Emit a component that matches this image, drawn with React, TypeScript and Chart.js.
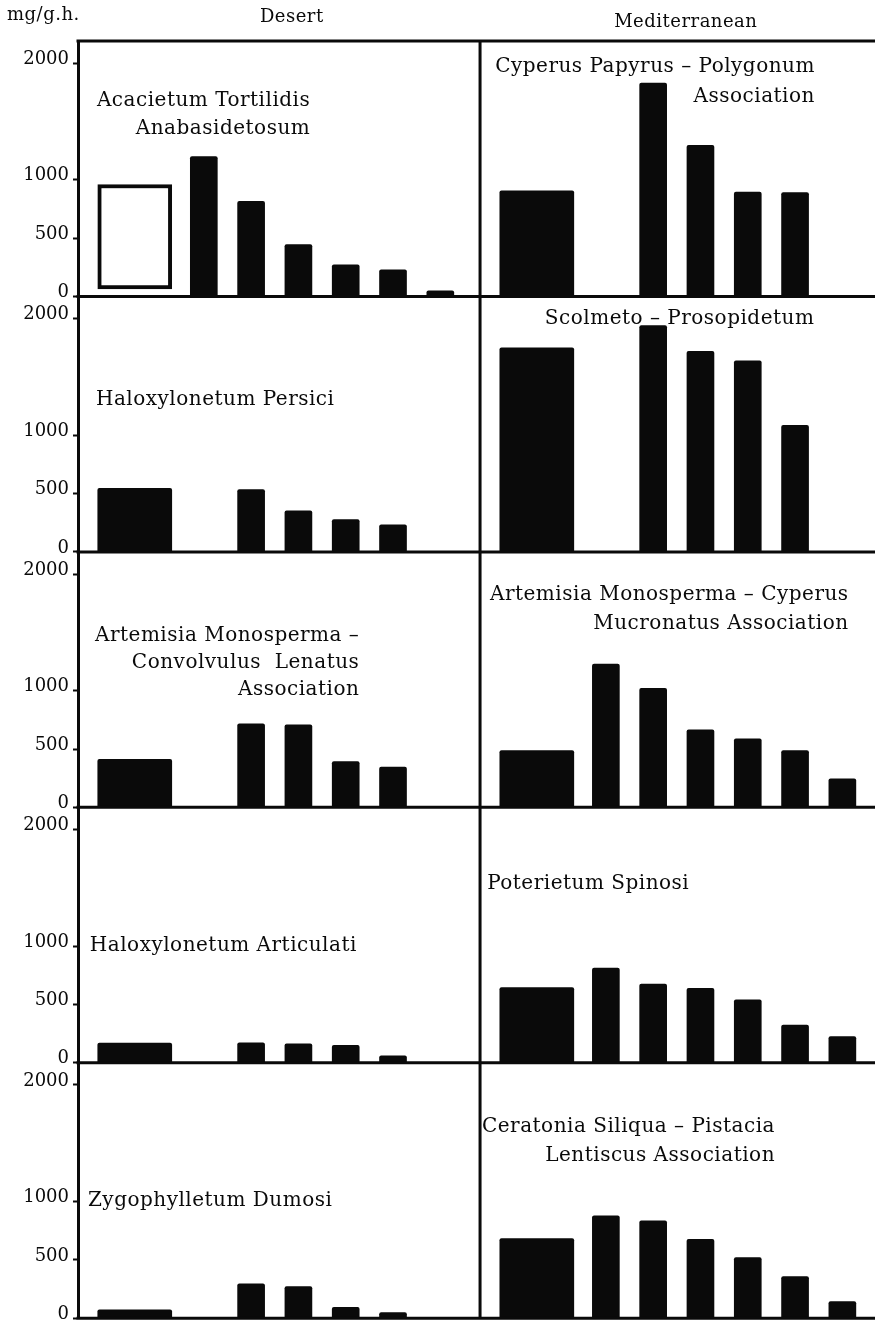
import React, { useEffect, useRef } from 'react';
import { Chart, registerables } from 'chart.js';

Chart.register(...registerables);

// ---------------- data ----------------
const Y_TICKS = [0, 500, 1000, 2000];
const SLOTS = ['1', '2', '3', '4', '5', '6'];
const COLUMN_HEADERS = ['Desert', 'Mediterranean'];
const UNIT_LABEL = 'mg/g.h.';

const DESERT_TITLES = [
  ['Acacietum Tortilidis', 'Anabasidetosum'],
  ['Haloxylonetum Persici'],
  ['Artemisia Monosperma –', 'Convolvulus  Lenatus', 'Association'],
  ['Haloxylonetum Articulati'],
  ['Zygophylletum Dumosi'],
];
const MED_TITLES = [
  ['Cyperus Papyrus – Polygonum', 'Association'],
  ['Scolmeto – Prosopidetum'],
  ['Artemisia Monosperma – Cyperus', 'Mucronatus Association'],
  ['Poterietum Spinosi'],
  ['Ceratonia Siliqua – Pistacia', 'Lentiscus Association'],
];

// wide (first) bar of each panel; the Acacietum one is an open bar [from, to]
const DESERT_WIDE: (number | [number, number])[] = [[65, 960], 545, 412, 168, 71];
const MED_WIDE: (number | [number, number])[] = [905, 1750, 487, 644, 682];

const DESERT_ACACIETUM = [1200, 815, 445, 270, 228, 48];
const DESERT_PERSICI = [null, 535, 352, 276, 231, null];
const DESERT_ARTEMISIA = [null, 715, 707, 392, 346, null];
const DESERT_ARTICULATI = [null, 171, 162, 149, 59, null];
const DESERT_ZYGOPHYLLETUM = [null, 294, 271, 94, 49, null];

const MED_CYPERUS = [null, 1830, 1295, 895, 890, null];
const MED_SCOLMETO = [null, 1940, 1720, 1637, 1085, null];
const MED_ARTEMISIA = [1228, 1020, 664, 587, 487, 245];
const MED_POTERIETUM = [812, 675, 639, 540, 324, 224];
const MED_CERATONIA = [877, 834, 677, 519, 356, 142];

const DESERT_SLOTS = [DESERT_ACACIETUM, DESERT_PERSICI, DESERT_ARTEMISIA, DESERT_ARTICULATI, DESERT_ZYGOPHYLLETUM];
const MED_SLOTS = [MED_CYPERUS, MED_SCOLMETO, MED_ARTEMISIA, MED_POTERIETUM, MED_CERATONIA];

// ---------------- layout ----------------
const W = 875;
const H = 1333;
const AXIS_W = 78;
const PAD_TOP = 41;
const PAD_BOTTOM = 8;
const X_MAX = 16.85;
const PANEL_SHIFT = 8.5;
const WIDE_X = 1.2;
const SLOT0_X = 2.66;
const Y_MAX = 2190;
const INK = '#0a0a0a';
const FONT = '"DejaVu Serif", "Liberation Serif", serif';

// title anchor: x in panel units from panel left, y = value on row axis, lh = line height px
const DESERT_TITLE_POS = [
  { x: 0.4, y: 1637, lh: 28 },
  { x: 0.38, y: 1260, lh: 28 },
  { x: 0.36, y: 1425, lh: 27 },
  { x: 0.25, y: 958, lh: 28 },
  { x: 0.21, y: 960, lh: 28 },
];
const MED_TITLE_POS = [
  { x: 0.32, y: 1924, lh: 30 },
  { x: 1.37, y: 1953, lh: 30 },
  { x: 0.21, y: 1778, lh: 29 },
  { x: 0.15, y: 1487, lh: 29 },
  { x: 0.04, y: 1594, lh: 29 },
];
const HEADER_X = [4.52, 12.85];
const HEADER_BASE = [19, 14];

function buildDatasets() {
  const ds: any[] = [];
  for (let r = 0; r < 5; r++) {
    for (let p = 0; p < 2; p++) {
      const wide = p ? MED_WIDE[r] : DESERT_WIDE[r];
      const slots = p ? MED_SLOTS[r] : DESERT_SLOTS[r];
      const title = (p ? MED_TITLES[r] : DESERT_TITLES[r]).join(' ');
      const hollow = Array.isArray(wide);
      ds.push({
        label: title + ' (community)',
        data: [{ x: p * PANEL_SHIFT + WIDE_X, y: wide }],
        yAxisID: 'y' + r,
        grouped: false,
        barThickness: 74,
        backgroundColor: hollow ? '#ffffff' : INK,
        borderColor: INK,
        borderWidth: hollow ? 4 : 0,
        borderSkipped: hollow ? false : 'start',
        borderRadius: hollow ? 0 : 2,
      });
      const pts: any[] = [];
      slots.forEach((v, i) => {
        if (v !== null && v !== undefined) pts.push({ x: p * PANEL_SHIFT + SLOT0_X + i, y: v, slot: SLOTS[i] });
      });
      ds.push({
        label: title,
        data: pts,
        yAxisID: 'y' + r,
        grouped: false,
        barThickness: 27,
        backgroundColor: INK,
        borderWidth: 0,
        borderRadius: 2,
      });
    }
  }
  return ds;
}

function buildScales() {
  const scales: any = {
    x: { type: 'linear', min: 0, max: X_MAX, offset: false, display: false },
  };
  for (let r = 0; r < 5; r++) {
    scales['y' + r] = {
      type: 'linear',
      position: 'left',
      stack: 'rows',
      stackWeight: 1,
      weight: 5 - r,
      min: 0,
      max: Y_MAX,
      afterBuildTicks: (s: any) => {
        s.ticks = Y_TICKS.map((v) => ({ value: v }));
      },
      afterFit: (s: any) => {
        s.width = AXIS_W;
      },
      border: { display: true, color: INK, width: 3 },
      grid: { drawOnChartArea: false, drawTicks: true, tickLength: 5, tickWidth: 2, tickColor: INK, color: INK },
      ticks: {
        color: INK,
        font: { family: FONT, size: 18 },
        padding: 4,
        labelOffset: -4,
        autoSkip: false,
        maxRotation: 0,
        callback: (v: any) => String(v),
      },
    };
  }
  return scales;
}

const framePlugin = {
  id: 'frameAndTitles',
  afterDatasetsDraw(chart: any) {
    const { ctx, chartArea, scales } = chart;
    const xs = scales.x;
    ctx.save();
    ctx.strokeStyle = INK;
    ctx.lineWidth = 3;
    ctx.beginPath();
    ctx.moveTo(chartArea.left - 1.5, chartArea.top);
    ctx.lineTo(chartArea.right, chartArea.top);
    for (let r = 0; r < 5; r++) {
      const y = scales['y' + r].getPixelForValue(0);
      ctx.moveTo(chartArea.left - 1.5, y);
      ctx.lineTo(chartArea.right, y);
    }
    const dx = xs.getPixelForValue(PANEL_SHIFT);
    ctx.moveTo(dx, chartArea.top);
    ctx.lineTo(dx, chartArea.bottom);
    ctx.stroke();

    // panel titles
    ctx.fillStyle = INK;
    ctx.font = '20px ' + FONT;
    ctx.textBaseline = 'alphabetic';
    try { (ctx as any).letterSpacing = '0.5px'; } catch (e) {}
    for (let r = 0; r < 5; r++) {
      for (let p = 0; p < 2; p++) {
        const lines = p ? MED_TITLES[r] : DESERT_TITLES[r];
        const pos = p ? MED_TITLE_POS[r] : DESERT_TITLE_POS[r];
        const maxW = Math.max(...lines.map((l) => ctx.measureText(l).width));
        const x0 = xs.getPixelForValue(p * PANEL_SHIFT + pos.x);
        const y0 = scales['y' + r].getPixelForValue(pos.y);
        ctx.textAlign = 'right';
        lines.forEach((l, i) => ctx.fillText(l, x0 + maxW, y0 + i * pos.lh));
      }
    }

    // headers
    ctx.font = '18px ' + FONT;
    ctx.textAlign = 'center';
    COLUMN_HEADERS.forEach((h, i) => {
      ctx.fillText(h, xs.getPixelForValue(HEADER_X[i]), chartArea.top - HEADER_BASE[i]);
    });
    ctx.textAlign = 'left';
    ctx.fillText(UNIT_LABEL, 7, chartArea.top - 21);
    ctx.restore();
  },
};

export default function App() {
  const ref = useRef<HTMLCanvasElement | null>(null);
  useEffect(() => {
    document.body.style.margin = '0';
    if (!ref.current) return;
    const chart = new Chart(ref.current, {
      type: 'bar',
      data: { datasets: buildDatasets() },
      options: {
        animation: false,
        responsive: true,
        maintainAspectRatio: false,
        layout: { padding: { top: PAD_TOP, bottom: PAD_BOTTOM, left: 0, right: 0 } },
        plugins: { legend: { display: false }, tooltip: { enabled: false }, title: { display: false } },
        scales: buildScales(),
      } as any,
      plugins: [framePlugin],
    });
    return () => chart.destroy();
  }, []);
  return (
    <div style={{ position: 'relative', width: W, height: H, background: '#fff' }}>
      <canvas ref={ref} />
    </div>
  );
}
